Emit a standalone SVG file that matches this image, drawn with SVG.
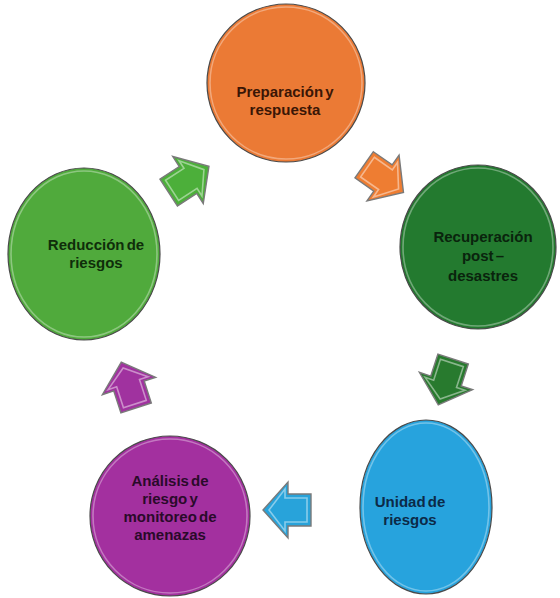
<svg xmlns="http://www.w3.org/2000/svg" width="560" height="598" viewBox="0 0 560 598">
  <defs>
    <style>
      .node-shape { stroke: #4a4a4a; stroke-width: 1.2; }
      .rim { fill: none; stroke: #ffffff; stroke-opacity: 0.35; stroke-width: 1.6; }
      .lbl { font-family: "Liberation Sans", Arial, sans-serif; font-weight: bold; font-size: 15px; text-anchor: middle; word-spacing: -2px; }
      .arrow { stroke: #7a7a7a; stroke-width: 1.4; stroke-linejoin: miter; }
      .arrow-hl { fill: none; stroke: #ffffff; stroke-opacity: 0.45; stroke-width: 1.6; }
    </style>
    <path id="arr" d="M -23,-16 L 0,-16 L 0,-28 L 25,0 L 0,28 L 0,16 L -23,16 Z"/>
    <path id="arrIn" d="M -19,-12 L 3,-12 L 3,-21 L 19,0 L 3,21 L 3,12 L -19,12 Z"/>
  </defs>

  <rect width="560" height="598" fill="#ffffff"/>

  <g id="connectors">
    <g id="arrow-green" transform="translate(188,180) rotate(-33)">
      <use href="#arr" class="arrow" fill="#4caf3a"/>
      <use href="#arrIn" class="arrow-hl"/>
    </g>
    <g id="arrow-orange" transform="translate(383,178) rotate(35)">
      <use href="#arr" class="arrow" fill="#ee7d32"/>
      <use href="#arrIn" class="arrow-hl"/>
    </g>
    <g id="arrow-darkgreen" transform="translate(446,381) rotate(108)">
      <use href="#arr" class="arrow" fill="#287a2e"/>
      <use href="#arrIn" class="arrow-hl"/>
    </g>
    <g id="arrow-blue" transform="translate(288,510) rotate(180)">
      <use href="#arr" class="arrow" fill="#28a3da"/>
      <use href="#arrIn" class="arrow-hl"/>
    </g>
    <g id="arrow-purple" transform="translate(129,386) rotate(-108)">
      <use href="#arr" class="arrow" fill="#a0329f"/>
      <use href="#arrIn" class="arrow-hl"/>
    </g>
  </g>

  <g id="node-preparacion">
    <ellipse class="node-shape" cx="286" cy="83" rx="79" ry="79" fill="#eb7a35"/>
    <ellipse class="rim" cx="286" cy="83" rx="76" ry="76"/>
    <text class="lbl" fill="#3a1606"><tspan x="285" y="97">Preparación y</tspan><tspan x="285" y="115">respuesta</tspan></text>
  </g>

  <g id="node-recuperacion">
    <ellipse class="node-shape" cx="478" cy="247" rx="78" ry="82" fill="#237a2f"/>
    <ellipse class="rim" cx="478" cy="247" rx="75" ry="79"/>
    <text class="lbl" fill="#0a240d"><tspan x="483" y="242">Recuperación</tspan><tspan x="483" y="261">post –</tspan><tspan x="483" y="281">desastres</tspan></text>
  </g>

  <g id="node-unidad">
    <ellipse class="node-shape" cx="426" cy="507" rx="66" ry="87" fill="#27a3dd"/>
    <ellipse class="rim" cx="426" cy="507" rx="63" ry="84"/>
    <text class="lbl" fill="#0c2a48"><tspan x="410" y="507">Unidad de</tspan><tspan x="410" y="525">riesgos</tspan></text>
  </g>

  <g id="node-analisis">
    <ellipse class="node-shape" cx="170" cy="516" rx="80" ry="80" fill="#a3309f"/>
    <ellipse class="rim" cx="170" cy="516" rx="77" ry="77"/>
    <text class="lbl" fill="#2a0a2a"><tspan x="170" y="486">Análisis de</tspan><tspan x="170" y="504">riesgo y</tspan><tspan x="170" y="522">monitoreo de</tspan><tspan x="170" y="540">amenazas</tspan></text>
  </g>

  <g id="node-reduccion">
    <ellipse class="node-shape" cx="84" cy="254" rx="76" ry="86" fill="#50aa3c"/>
    <ellipse class="rim" cx="84" cy="254" rx="73" ry="83"/>
    <text class="lbl" fill="#0f2e0a"><tspan x="96" y="250">Reducción de</tspan><tspan x="96" y="268">riesgos</tspan></text>
  </g>
</svg>
